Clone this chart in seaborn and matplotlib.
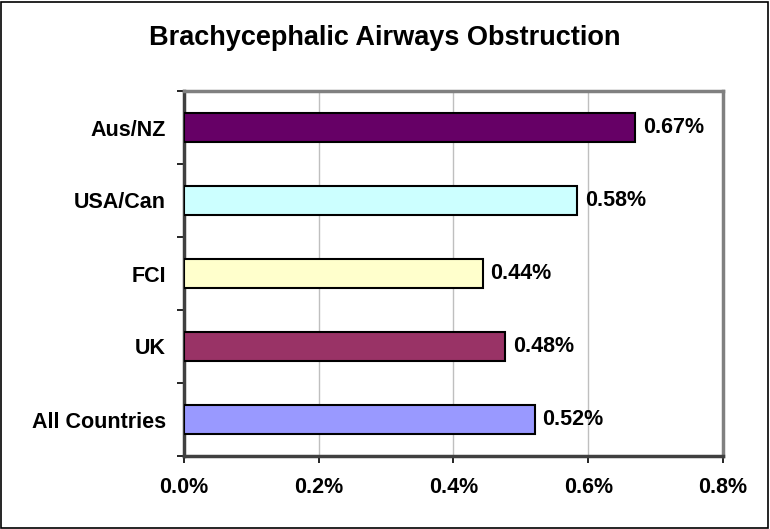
import matplotlib
matplotlib.use("Agg")
import matplotlib.pyplot as plt
from matplotlib.patches import Rectangle
from matplotlib.ticker import FixedLocator, FuncFormatter
import pandas as pd
import seaborn as sns

# Data (percent)
regions = ["Aus/NZ", "USA/Can", "FCI", "UK", "All Countries"]
rates = [0.670, 0.584, 0.444, 0.477, 0.521]
bar_colors = ["#660066", "#CCFFFF", "#FFFFCC", "#993366", "#9999FF"]
x_ticks = [0.0, 0.2, 0.4, 0.6, 0.8]

df = pd.DataFrame({"Region": regions, "Rate": rates})

sns.set_style("white")
plt.rcParams["font.family"] = ["Liberation Sans", "DejaVu Sans"]
plt.rcParams["font.weight"] = "bold"
plt.rcParams["text.color"] = "black"
plt.rcParams["xtick.color"] = "black"
plt.rcParams["ytick.color"] = "black"

fig = plt.figure(figsize=(7.7, 5.29), dpi=100)
ax = fig.add_axes([184 / 770, 1 - 456 / 529, (723 - 184) / 770, (456 - 91) / 529])

sns.barplot(data=df, x="Rate", y="Region", hue="Region", palette=bar_colors,
            saturation=1, legend=False, orient="h", width=0.39, edgecolor="black",
            linewidth=1.5, ax=ax, zorder=3)

# Value labels at the bar ends
for i, v in enumerate(rates):
    ax.text(v + 0.011, i, f"{v:.2f}%", va="center", ha="left",
            fontsize=15.5, fontweight="bold", color="black")

ax.set_xlim(0, 0.8)
ax.set_ylim(4.5, -0.5)
ax.xaxis.set_major_locator(FixedLocator(x_ticks))
ax.xaxis.set_major_formatter(FuncFormatter(lambda v, p: f"{v:.1f}%"))
ax.grid(axis="x", color="#BFBFBF", linewidth=1, zorder=0)
ax.set_axisbelow(True)

# category ticks sit between the bars, like Excel
ax.yaxis.set_major_locator(FixedLocator(range(len(regions))))
ax.yaxis.set_minor_locator(FixedLocator([i - 0.5 for i in range(len(regions) + 1)]))
ax.tick_params(axis="y", which="major", length=0, pad=13, labelsize=15.5)
ax.tick_params(axis="y", which="minor", length=5, width=1.2, color="black", direction="out", left=True)
ax.tick_params(axis="x", which="major", length=5, width=1.2, color="black", direction="out",
               bottom=True, pad=10, labelsize=15.5)
for lbl in ax.get_xticklabels() + ax.get_yticklabels():
    lbl.set_fontweight("bold")

ax.set_xlabel("")
ax.set_ylabel("")

for side in ["top", "right"]:
    ax.spines[side].set_color("#808080")
    ax.spines[side].set_linewidth(2.5)
for side in ["left", "bottom"]:
    ax.spines[side].set_color("#404040")
    ax.spines[side].set_linewidth(2.5)

fig.text(0.5, 1 - 38 / 529, "Brachycephalic Airways Obstruction", ha="center", va="center",
         fontsize=19.5, fontweight="bold")

# outer chart border
fig.patches.append(Rectangle((0.001, 0.001), 0.997, 0.996, transform=fig.transFigure,
                             fill=False, edgecolor="black", linewidth=1.2))

fig.savefig("out.png", dpi=100)
